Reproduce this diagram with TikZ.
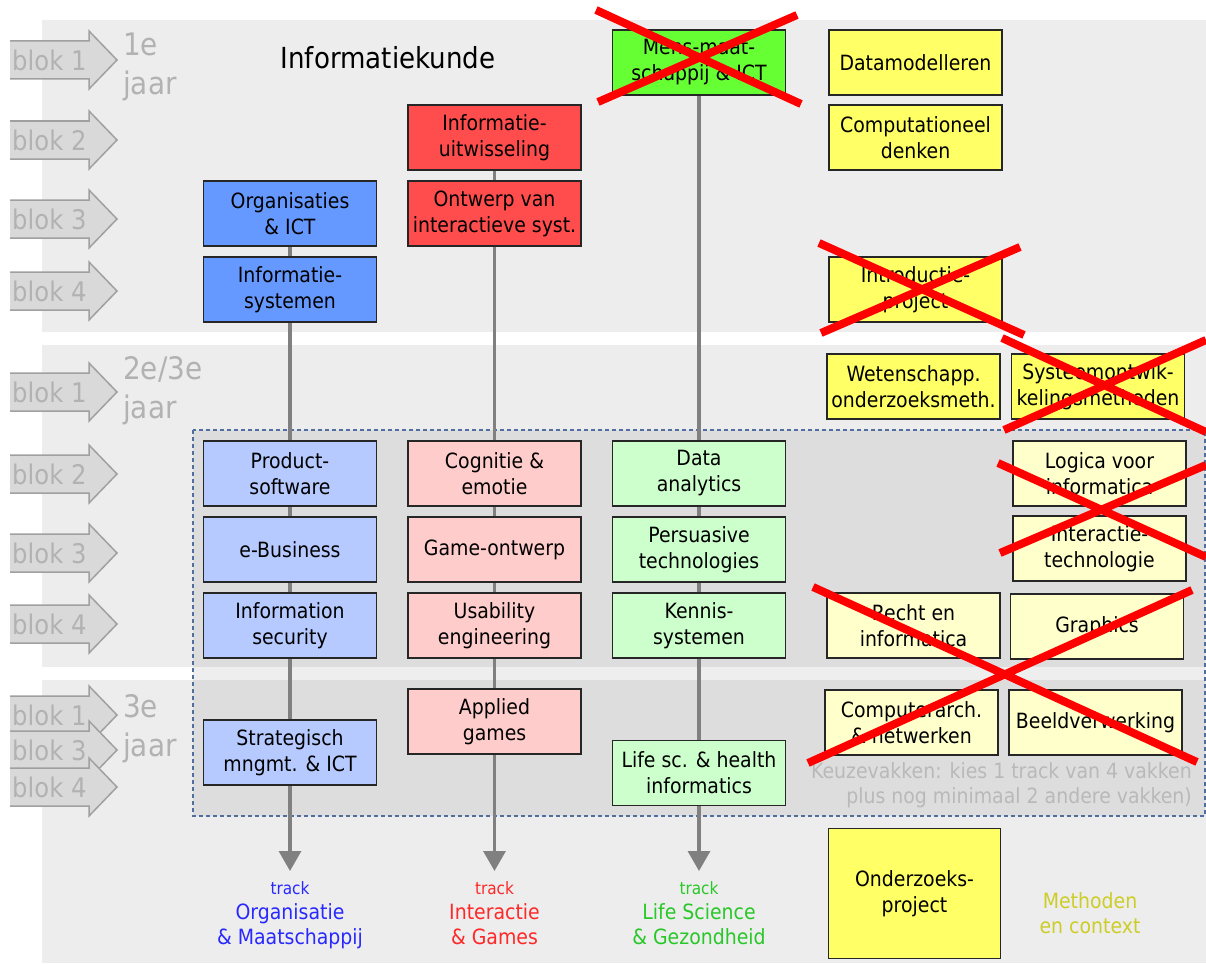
\documentclass[tikz,border=0pt]{standalone}
\usepackage{fontspec}
\setmainfont{DejaVu Sans}[FakeStretch=0.9]
\usetikzlibrary{arrows.meta,positioning}
\newcommand\fsz[2]{\fontsize{#1}{#2}\selectfont}
\definecolor{paneel}{RGB}{237,237,237}
\definecolor{blokgrijs}{RGB}{217,217,217}
\definecolor{blokrand}{RGB}{160,160,160}
\definecolor{bloktekst}{RGB}{178,178,178}
\definecolor{orgdonker}{RGB}{102,153,255}
\definecolor{orglicht}{RGB}{182,202,255}
\definecolor{intdonker}{RGB}{255,77,77}
\definecolor{intlicht}{RGB}{255,204,204}
\definecolor{lifedonker}{RGB}{102,255,51}
\definecolor{lifelicht}{RGB}{204,255,204}
\definecolor{methdonker}{RGB}{255,255,102}
\definecolor{methlicht}{RGB}{255,255,204}
\definecolor{lijngrijs}{RGB}{128,128,128}
\definecolor{stippel}{RGB}{80,110,160}
\definecolor{orgtrack}{RGB}{40,40,255}
\definecolor{inttrack}{RGB}{255,40,40}
\definecolor{lifetrack}{RGB}{40,200,40}
\definecolor{methtekst}{RGB}{205,205,40}
\definecolor{keuzetekst}{RGB}{185,185,185}
\tikzset{
    vak/.style={draw=black!85, line width=1.8pt, minimum width=173pt, minimum height=65pt,
        inner sep=0pt, align=center, text=black, font=\fsz{21}{26}},
    org/.style={vak, fill=orgdonker},
    orgkeuze/.style={vak, fill=orglicht},
    int/.style={vak, fill=intdonker},
    intkeuze/.style={vak, fill=intlicht},
    life/.style={vak, fill=lifedonker},
    lifekeuze/.style={vak, fill=lifelicht},
    meth/.style={vak, fill=methdonker},
    methkeuze/.style={vak, fill=methlicht},
    lijn/.style={draw=lijngrijs, line width=3.3pt},
    pijl/.style={lijn, -{Triangle[width=22pt,length=20pt]}},
    kruis/.style={draw=red, line width=8pt},
    paneelvlak/.style={fill=paneel},
    blokvlak/.style={fill=blokgrijs},
    blokrandlijn/.style={draw=blokrand, line width=1.5pt, line join=miter},
    bloklabel/.style={text=bloktekst, font=\fsz{27}{30}, inner sep=2pt, anchor=west},
    jaarlabel/.style={text=bloktekst, font=\fsz{31}{39}, align=left, inner sep=0pt, anchor=west},
    tracklabel/.style={font=\fsz{21}{25}, align=center, inner sep=0pt},
}
% blok-pijl: #1 = y van het midden, #2 = tekst
\newcommand\blokpijl[2]{%
    \fill[blokvlak] (10,#1-19) -- (89,#1-19) -- (89,#1-29) -- (117,#1) -- (89,#1+29) -- (89,#1+19) -- (10,#1+19) -- cycle;
    \draw[blokrandlijn] (10,#1-19) -- (89,#1-19) -- (89,#1-29) -- (117,#1) -- (89,#1+29) -- (89,#1+19) -- (10,#1+19);
    \node[bloklabel] at (10,#1) {#2};
}
\begin{document}
\begin{tikzpicture}[x=1pt,y=-1pt]
    \useasboundingbox (0,0) rectangle (1206,963);
    % jaren
    \fill[paneelvlak] (42,20) rectangle (1206,332);
    \fill[paneelvlak] (42,345) rectangle (1206,667);
    \fill[paneelvlak] (42,680) rectangle (1206,963);
    \fill[black, opacity=0.065] (193,430) rectangle (1205,816);
    \draw[stippel, line width=1.5pt, dash pattern=on 4pt off 3pt] (193,430) rectangle (1205,816);

    \blokpijl{60}{blok 1}
    \blokpijl{140}{blok 2}
    \blokpijl{219}{blok 3}
    \blokpijl{291}{blok 4}
    \blokpijl{392}{blok 1}
    \blokpijl{474}{blok 2}
    \blokpijl{553}{blok 3}
    \blokpijl{624}{blok 4}
    \blokpijl{715}{blok 1}
    \blokpijl{750}{blok 3}
    \blokpijl{787}{blok 4}

    \node[jaarlabel] (jaar1) at (123,67) {1e\\jaar};
    \node[jaarlabel] (jaar2) at (123,391) {2e/3e\\jaar};
    \node[jaarlabel] (jaar3) at (123,729) {3e\\jaar};
    \node[font=\fsz{29}{32}] (titel) at (388,58) {Informatiekunde};

    % track Organisatie & Maatschappij
    \node[org] (org1) at (290,213.5) {Organisaties\\\& ICT};
    \node[org] (org2) at (290,289.5) {Informatie-\\systemen};
    \node[orgkeuze] (org3) at (290,473.5) {Product-\\software};
    \node[orgkeuze] (org4) at (290,549.5) {e-Business};
    \node[orgkeuze] (org5) at (290,625.5) {Information\\security};
    \node[orgkeuze] (org6) at (290,752.5) {Strategisch\\mngmt. \& ICT};
    % track Interactie & Games
    \node[int] (int1) at (494.5,137.5) {Informatie-\\uitwisseling};
    \node[int] (int2) at (494.5,213.5) {Ontwerp van\\interactieve syst.};
    \node[intkeuze] (int3) at (494.5,473.5) {Cognitie \&\\emotie};
    \node[intkeuze] (int4) at (494.5,549.5) {Game-ontwerp};
    \node[intkeuze] (int5) at (494.5,625.5) {Usability\\engineering};
    \node[intkeuze] (int6) at (494.5,721.5) {Applied\\games};
    % track Life Science & Gezondheid
    \node[life] (life1) at (699,62.5) {Mens-maat-\\schappij \& ICT};
    \node[lifekeuze] (life2) at (699,473.5) {Data\\analytics};
    \node[lifekeuze] (life3) at (699,549.5) {Persuasive\\technologies};
    \node[lifekeuze] (life4) at (699,625.5) {Kennis-\\systemen};
    \node[lifekeuze] (life5) at (699,773) {Life sc. \& health\\informatics};
    % methoden en context
    \node[meth] (meth1) at (915.5,62.5) {Datamodelleren};
    \node[meth] (meth2) at (915.5,137.5) {Computationeel\\denken};
    \node[meth] (meth3) at (915.5,289.5) {Introductie-\\project};
    \node[meth] (meth4) at (913.5,386.5) {Wetenschapp.\\onderzoeksmeth.};
    \node[meth] (meth5) at (1098,386.5) {Systeemontwik-\\kelingsmethoden};
    \node[methkeuze] (keuze1) at (1099.5,473.5) {Logica voor\\informatica};
    \node[methkeuze] (keuze2) at (1099.5,548.5) {Interactie-\\technologie};
    \node[methkeuze] (keuze3) at (913.5,625.5) {Recht en\\informatica};
    \node[methkeuze] (keuze4) at (1097,626.5) {Graphics};
    \node[methkeuze] (keuze5) at (911.5,722.5) {Computerarch.\\\& netwerken};
    \node[methkeuze] (keuze6) at (1095.5,722.5) {Beeldverwerking};
    \node[meth, minimum width=172pt, minimum height=130pt] (project) at (914.5,893.5) {Onderzoeks-\\project};

    \node[text=keuzetekst, font=\fsz{21}{25}, align=right, anchor=east, inner sep=0pt] (keuzetxt) at (1192,785)
        {Keuzevakken: kies 1 track van 4 vakken\\plus nog minimaal 2 andere vakken)};
    \node[tracklabel, text=methtekst] (methtxt) at (1090,913) {Methoden\\en context};

    \coordinate (eindorg) at (290,871);
    \coordinate (eindint) at (494.5,871);
    \coordinate (eindlife) at (699,871);
    \node[tracklabel, text=orgtrack] (trackorg) at (290,915.5) {{\fsz{17}{25}track}\\Organisatie\\\& Maatschappij\vphantom{pj}};
    \node[tracklabel, text=inttrack] (trackint) at (494.5,915.5) {{\fsz{17}{25}track}\\Interactie\\\& Games\vphantom{pj}};
    \node[tracklabel, text=lifetrack] (tracklife) at (699,915.5) {{\fsz{17}{25}track}\\Life Science\\\& Gezondheid\vphantom{pj}};

    \draw[lijn] (org1) -- (org2) (org2) -- (org3) (org3) -- (org4) (org4) -- (org5) (org5) -- (org6);
    \draw[pijl] (org6.south) -- (eindorg);
    \draw[lijn] (int1) -- (int2) (int2) -- (int3) (int3) -- (int4) (int4) -- (int5) (int5) -- (int6);
    \draw[pijl] (int6.south) -- (eindint);
    \draw[lijn] (life1) -- (life2) (life2) -- (life3) (life3) -- (life4) (life4) -- (life5);
    \draw[pijl] (life5.south) -- (eindlife);

    % vervallen vakken
    \draw[kruis] (596,10) -- (801,104) (598,102) -- (797,15);
    \draw[kruis] (819,243) -- (1024,335) (821,333) -- (1020,247);
    \draw[kruis] (1002,338) -- (1206,432) (1004,430) -- (1206,340);
    \draw[kruis] (998,463) -- (1206,557) (1000,553) -- (1206,465);
    \draw[kruis] (813,587) -- (1197,762) (808,763) -- (1192,590);
\end{tikzpicture}
\end{document}
